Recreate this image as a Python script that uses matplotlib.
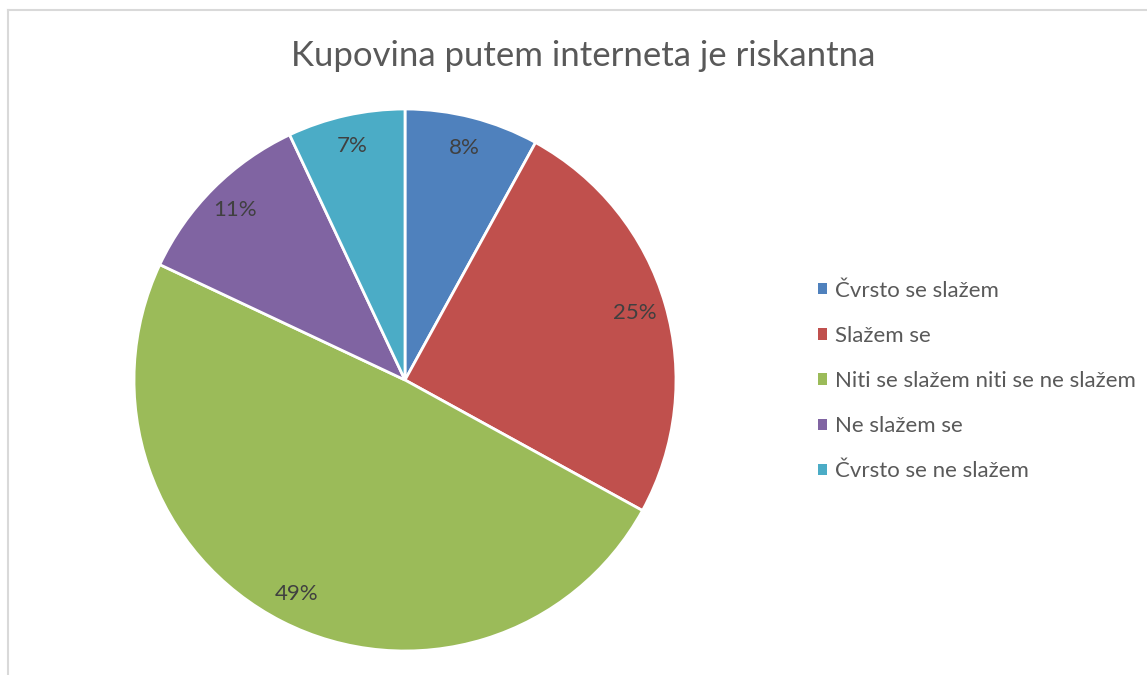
import matplotlib
matplotlib.use("Agg")
import matplotlib.pyplot as plt
from matplotlib.lines import Line2D
from matplotlib.patches import Patch

plt.rcParams['font.family'] = ['Lato', 'DejaVu Sans']

title = "Kupovina putem interneta je riskantna"
categories = ["Čvrsto se slažem", "Slažem se", "Niti se slažem niti se ne slažem",
              "Ne slažem se", "Čvrsto se ne slažem"]
values = [8, 25, 49, 11, 7]
colors = ["#4F81BD", "#C0504D", "#9BBB59", "#8064A2", "#4BACC6"]

W, H = 1147, 675
fig = plt.figure(figsize=(W / 100, H / 100), dpi=100)

# chart border
fig.add_artist(Line2D([8 / W, 8 / W], [0, 1 - 10 / H], color="#D9D9D9", lw=1.5))
fig.add_artist(Line2D([8 / W, 1], [1 - 10 / H, 1 - 10 / H], color="#D9D9D9", lw=1.5))

cx, cy, r = 405, 380, 271
ax = fig.add_axes([(cx - r) / W, (H - cy - r) / H, 2 * r / W, 2 * r / H])
wedges, texts, autotexts = ax.pie(
    values, colors=colors, startangle=90, counterclock=False,
    autopct=lambda p: f"{p:.0f}%", pctdistance=0.885,
    wedgeprops=dict(edgecolor="white", linewidth=2),
    textprops=dict(color="#404040", fontsize=16))
ax.set_xlim(-1.0, 1.0)
ax.set_ylim(-1.0, 1.0)
ax.set_aspect("equal")
ax.axis("off")

fig.text(583 / W, 1 - 56 / H, title, ha="center", va="center",
         fontsize=25, color="#595959")

handles = [Patch(facecolor=c, edgecolor="none") for c in colors]
leg = fig.legend(handles, categories, loc="center left",
                 bbox_to_anchor=(818 / W, 1 - 381 / H), frameon=False,
                 borderpad=0, borderaxespad=0,
                 fontsize=16, labelcolor="#595959", handlelength=0.4,
                 handleheight=0.4, handletextpad=0.35, labelspacing=1.13)

fig.savefig("out.png", dpi=100)
